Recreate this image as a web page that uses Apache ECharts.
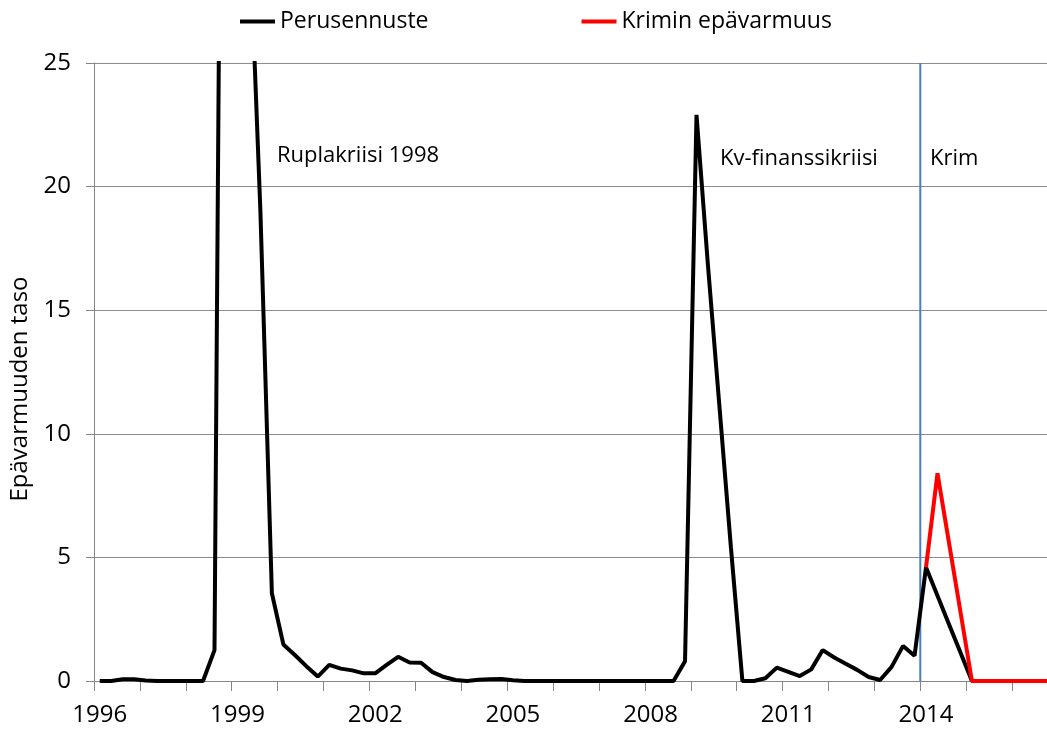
<!DOCTYPE html>
<html>
<head>
<meta charset="utf-8">
<script src="https://cdn.jsdelivr.net/npm/echarts@6/dist/echarts.min.js"></script>
<style>
  html, body { margin: 0; padding: 0; background: #fff; overflow: hidden; }
  /* kuvaaja jatkuu hiukan ikkunan oikean reunan yli, kuten alkuperäisessä */
  #chart { width: 1058px; height: 731px; }
</style>
</head>
<body>
<div id="chart"></div>
<script>
// vuodet, neljännesvuosittain 1996Q1 - 2016Q4
const years = [1996, 1997, 1998, 1999, 2000, 2001, 2002, 2003, 2004, 2005, 2006,
  2007, 2008, 2009, 2010, 2011, 2012, 2013, 2014, 2015, 2016];
const quarters = ['Q1', 'Q2', 'Q3', 'Q4'];
const categories = [];
years.forEach(y => quarters.forEach(q => categories.push(y + q)));

// Perusennuste (musta)
const perusennuste = [
  0, 0, 0.07, 0.07, 0.02, 0, 0, 0, 0, 0,
  1.25, 65, 60, 31, 19, 3.55, 1.48, 1.05, 0.6, 0.18,
  0.65, 0.5, 0.43, 0.31, 0.31, 0.65, 0.98, 0.75, 0.74, 0.36,
  0.16, 0.04, 0, 0.05, 0.07, 0.08, 0.03, 0, 0, 0,
  0, 0, 0, 0, 0, 0, 0, 0, 0, 0,
  0, 0.8, 22.9, 16.8, 11.1, 5.4, 0, 0, 0.11, 0.54,
  0.37, 0.2, 0.47, 1.25, 0.95, 0.7, 0.45, 0.16, 0.04, 0.57,
  1.42, 1.02, 4.6, 3.45, 2.3, 1.15, 0, 0, 0, 0,
  0, 0, 0, 0
];

// Krimin epävarmuus (punainen), alkaa 2014Q1
const krim = [
  null, null, null, null, null, null, null, null, null, null,
  null, null, null, null, null, null, null, null, null, null,
  null, null, null, null, null, null, null, null, null, null,
  null, null, null, null, null, null, null, null, null, null,
  null, null, null, null, null, null, null, null, null, null,
  null, null, null, null, null, null, null, null, null, null,
  null, null, null, null, null, null, null, null, null, null,
  null, null, 4.6, 8.4, 5.6, 2.8, 0, 0, 0, 0,
  0, 0, 0, 0
];

// pystyviiva 2014 alussa (kategoriaindeksi 72 = raja)
const krimLine = [[72, 0], [72, 25]];

const yTicks = { min: 0, max: 25, interval: 5 };

const font = '"Open Sans", "Noto Sans", sans-serif';
const chart = echarts.init(document.getElementById('chart'));

chart.setOption({
  animation: false,
  backgroundColor: '#fff',
  textStyle: { fontFamily: font },
  legend: {
    top: 5,
    left: 235,
    itemGap: 153,
    itemWidth: 35,
    itemHeight: 4,
    icon: 'rect',
    data: ['Perusennuste', 'Krimin epävarmuus'],
    textStyle: { fontSize: 23, color: '#000', fontFamily: font }
  },
  grid: { left: 92, right: 0, top: 63, bottom: 50 },
  xAxis: [{
    type: 'category',
    data: categories,
    boundaryGap: true,
    axisLine: { lineStyle: { color: '#868686', width: 1 } },
    axisTick: { show: true, interval: 3, length: 10, lineStyle: { color: '#868686' } },
    axisLabel: {
      interval: 11,
      margin: 22,
      fontSize: 24,
      color: '#000',
      formatter: v => v.slice(0, 4)
    },
    splitLine: { show: false }
  }, {
    type: 'value',
    min: 0,
    max: 84,
    show: false
  }],
  yAxis: {
    type: 'value',
    min: yTicks.min,
    max: yTicks.max,
    interval: yTicks.interval,
    name: 'Epävarmuuden taso',
    nameLocation: 'middle',
    nameGap: 62,
    nameTextStyle: { fontSize: 24, color: '#000', padding: [0, 34, 0, 0] },
    axisLine: { show: true, lineStyle: { color: '#868686' } },
    axisTick: { show: true, length: 8, lineStyle: { color: '#868686' } },
    axisLabel: { margin: 23, fontSize: 24, color: '#000' },
    splitLine: { lineStyle: { color: '#8c8c8c', width: 1 } }
  },
  graphic: [
    { type: 'text', left: 277, top: 145, style: { text: 'Ruplakriisi 1998', fontSize: 22, fontFamily: font, fill: '#000' } },
    { type: 'text', left: 720, top: 148, style: { text: 'Kv-finanssikriisi', fontSize: 22, fontFamily: font, fill: '#000' } },
    { type: 'text', left: 930, top: 148, style: { text: 'Krim', fontSize: 22, fontFamily: font, fill: '#000' } }
  ],
  series: [{
    name: 'viiva',
    type: 'line',
    xAxisIndex: 1,
    data: krimLine,
    symbol: 'none',
    lineStyle: { color: '#4a7ebb', width: 2 },
    z: 1,
    silent: true
  }, {
    name: 'Perusennuste',
    type: 'line',
    data: perusennuste,
    symbol: 'none',
    color: '#000',
    lineStyle: { color: '#000', width: 4 },
    clip: true,
    z: 2
  }, {
    name: 'Krimin epävarmuus',
    type: 'line',
    data: krim,
    symbol: 'none',
    color: '#ff0000',
    lineStyle: { color: '#ff0000', width: 4 },
    clip: true,
    z: 3
  }]
});
</script>
</body>
</html>
